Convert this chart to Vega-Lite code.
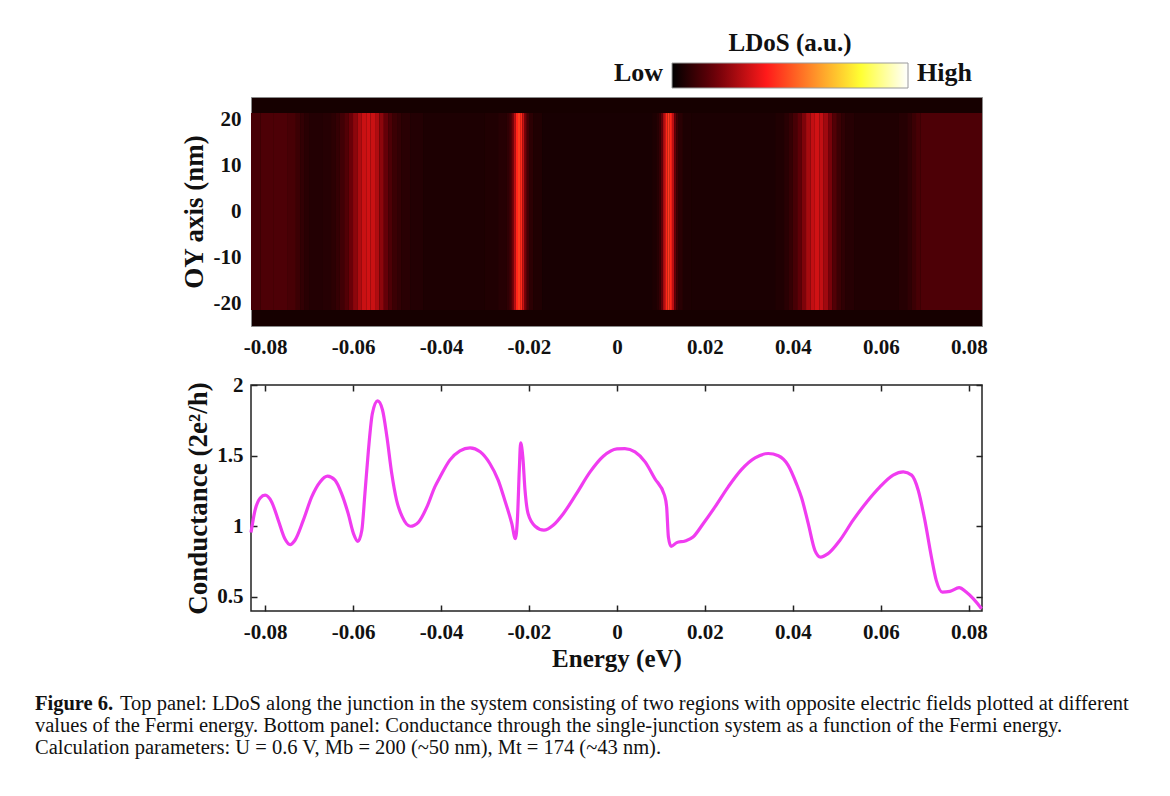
{
  "$schema": "https://vega.github.io/schema/vega-lite/v6.json",
  "background": "white",
  "padding": {"left": 35, "top": 31, "right": 5, "bottom": 5},
  "spacing": 15,
  "config": {
    "font": "Liberation Serif",
    "view": {"stroke": null},
    "axis": {
      "grid": false,
      "labelFont": "Liberation Serif",
      "labelFontWeight": "bold",
      "labelFontSize": 21,
      "labelColor": "#111111",
      "titleFont": "Liberation Serif",
      "titleFontWeight": "bold",
      "titleFontSize": 27,
      "titleColor": "#111111",
      "labelFlush": false
    }
  },
  "datasets": {
    "ldos": [
      {"e0": -0.0832, "e1": -0.081, "v": 0.12},
      {"e0": -0.081, "e1": -0.078, "v": 0.13},
      {"e0": -0.078, "e1": -0.075, "v": 0.13},
      {"e0": -0.075, "e1": -0.073, "v": 0.12},
      {"e0": -0.073, "e1": -0.072, "v": 0.10},
      {"e0": -0.072, "e1": -0.071, "v": 0.085},
      {"e0": -0.071, "e1": -0.070, "v": 0.07},
      {"e0": -0.070, "e1": -0.067, "v": 0.06},
      {"e0": -0.067, "e1": -0.065, "v": 0.065},
      {"e0": -0.065, "e1": -0.064, "v": 0.075},
      {"e0": -0.064, "e1": -0.063, "v": 0.09},
      {"e0": -0.063, "e1": -0.062, "v": 0.11},
      {"e0": -0.062, "e1": -0.061, "v": 0.14},
      {"e0": -0.061, "e1": -0.060, "v": 0.18},
      {"e0": -0.060, "e1": -0.059, "v": 0.23},
      {"e0": -0.059, "e1": -0.058, "v": 0.28},
      {"e0": -0.058, "e1": -0.057, "v": 0.32},
      {"e0": -0.057, "e1": -0.056, "v": 0.33},
      {"e0": -0.056, "e1": -0.055, "v": 0.32},
      {"e0": -0.055, "e1": -0.054, "v": 0.28},
      {"e0": -0.054, "e1": -0.053, "v": 0.23},
      {"e0": -0.053, "e1": -0.052, "v": 0.17},
      {"e0": -0.052, "e1": -0.051, "v": 0.13},
      {"e0": -0.051, "e1": -0.050, "v": 0.10},
      {"e0": -0.050, "e1": -0.049, "v": 0.085},
      {"e0": -0.049, "e1": -0.047, "v": 0.07},
      {"e0": -0.047, "e1": -0.044, "v": 0.06},
      {"e0": -0.044, "e1": -0.030, "v": 0.05},
      {"e0": -0.030, "e1": -0.027, "v": 0.055},
      {"e0": -0.027, "e1": -0.025, "v": 0.065},
      {"e0": -0.025, "e1": -0.0245, "v": 0.08},
      {"e0": -0.0245, "e1": -0.024, "v": 0.11},
      {"e0": -0.024, "e1": -0.0235, "v": 0.18},
      {"e0": -0.0235, "e1": -0.023, "v": 0.30},
      {"e0": -0.023, "e1": -0.0225, "v": 0.42},
      {"e0": -0.0225, "e1": -0.022, "v": 0.46},
      {"e0": -0.022, "e1": -0.0215, "v": 0.43},
      {"e0": -0.0215, "e1": -0.021, "v": 0.32},
      {"e0": -0.021, "e1": -0.0205, "v": 0.19},
      {"e0": -0.0205, "e1": -0.020, "v": 0.11},
      {"e0": -0.020, "e1": -0.019, "v": 0.075},
      {"e0": -0.019, "e1": -0.017, "v": 0.055},
      {"e0": -0.017, "e1": 0.008, "v": 0.04},
      {"e0": 0.008, "e1": 0.009, "v": 0.05},
      {"e0": 0.009, "e1": 0.0095, "v": 0.065},
      {"e0": 0.0095, "e1": 0.010, "v": 0.09},
      {"e0": 0.010, "e1": 0.0105, "v": 0.16},
      {"e0": 0.0105, "e1": 0.011, "v": 0.29},
      {"e0": 0.011, "e1": 0.0115, "v": 0.42},
      {"e0": 0.0115, "e1": 0.012, "v": 0.46},
      {"e0": 0.012, "e1": 0.0125, "v": 0.42},
      {"e0": 0.0125, "e1": 0.013, "v": 0.30},
      {"e0": 0.013, "e1": 0.0135, "v": 0.17},
      {"e0": 0.0135, "e1": 0.014, "v": 0.10},
      {"e0": 0.014, "e1": 0.015, "v": 0.07},
      {"e0": 0.015, "e1": 0.017, "v": 0.05},
      {"e0": 0.017, "e1": 0.036, "v": 0.045},
      {"e0": 0.036, "e1": 0.038, "v": 0.055},
      {"e0": 0.038, "e1": 0.039, "v": 0.07},
      {"e0": 0.039, "e1": 0.040, "v": 0.09},
      {"e0": 0.040, "e1": 0.041, "v": 0.12},
      {"e0": 0.041, "e1": 0.042, "v": 0.16},
      {"e0": 0.042, "e1": 0.043, "v": 0.21},
      {"e0": 0.043, "e1": 0.044, "v": 0.27},
      {"e0": 0.044, "e1": 0.045, "v": 0.31},
      {"e0": 0.045, "e1": 0.046, "v": 0.33},
      {"e0": 0.046, "e1": 0.047, "v": 0.31},
      {"e0": 0.047, "e1": 0.048, "v": 0.26},
      {"e0": 0.048, "e1": 0.049, "v": 0.20},
      {"e0": 0.049, "e1": 0.050, "v": 0.14},
      {"e0": 0.050, "e1": 0.051, "v": 0.10},
      {"e0": 0.051, "e1": 0.052, "v": 0.08},
      {"e0": 0.052, "e1": 0.054, "v": 0.065},
      {"e0": 0.054, "e1": 0.064, "v": 0.055},
      {"e0": 0.064, "e1": 0.066, "v": 0.065},
      {"e0": 0.066, "e1": 0.067, "v": 0.08},
      {"e0": 0.067, "e1": 0.068, "v": 0.10},
      {"e0": 0.068, "e1": 0.069, "v": 0.12},
      {"e0": 0.069, "e1": 0.083, "v": 0.13}
    ],
    "cond": [
      {"E": -0.0832, "G": 0.955},
      {"E": -0.0823, "G": 1.11},
      {"E": -0.0811, "G": 1.20},
      {"E": -0.0800, "G": 1.22},
      {"E": -0.0785, "G": 1.172},
      {"E": -0.0770, "G": 1.043},
      {"E": -0.0755, "G": 0.912},
      {"E": -0.0743, "G": 0.870},
      {"E": -0.0732, "G": 0.901},
      {"E": -0.0713, "G": 1.043},
      {"E": -0.0694, "G": 1.208},
      {"E": -0.0675, "G": 1.314},
      {"E": -0.0658, "G": 1.355},
      {"E": -0.0641, "G": 1.326},
      {"E": -0.0626, "G": 1.231},
      {"E": -0.0611, "G": 1.089},
      {"E": -0.0599, "G": 0.948},
      {"E": -0.0589, "G": 0.893},
      {"E": -0.0580, "G": 0.972},
      {"E": -0.0573, "G": 1.231},
      {"E": -0.0565, "G": 1.539},
      {"E": -0.0556, "G": 1.799},
      {"E": -0.0544, "G": 1.887},
      {"E": -0.0533, "G": 1.823},
      {"E": -0.0523, "G": 1.633},
      {"E": -0.0512, "G": 1.373},
      {"E": -0.0501, "G": 1.184},
      {"E": -0.0488, "G": 1.066},
      {"E": -0.0470, "G": 1.000},
      {"E": -0.0451, "G": 1.030},
      {"E": -0.0432, "G": 1.137},
      {"E": -0.0414, "G": 1.279},
      {"E": -0.0402, "G": 1.350},
      {"E": -0.0380, "G": 1.468},
      {"E": -0.0357, "G": 1.534},
      {"E": -0.0334, "G": 1.555},
      {"E": -0.0311, "G": 1.527},
      {"E": -0.0289, "G": 1.444},
      {"E": -0.0270, "G": 1.326},
      {"E": -0.0255, "G": 1.184},
      {"E": -0.0239, "G": 1.018},
      {"E": -0.0231, "G": 0.912},
      {"E": -0.0226, "G": 1.066},
      {"E": -0.0222, "G": 1.397},
      {"E": -0.0219, "G": 1.591},
      {"E": -0.0214, "G": 1.491},
      {"E": -0.0209, "G": 1.255},
      {"E": -0.0202, "G": 1.089},
      {"E": -0.0186, "G": 1.000},
      {"E": -0.0166, "G": 0.972},
      {"E": -0.0145, "G": 1.007},
      {"E": -0.0122, "G": 1.089},
      {"E": -0.0092, "G": 1.231},
      {"E": -0.0061, "G": 1.385},
      {"E": -0.0031, "G": 1.496},
      {"E": 0.0000, "G": 1.548},
      {"E": 0.0018, "G": 1.550},
      {"E": 0.0041, "G": 1.527},
      {"E": 0.0064, "G": 1.456},
      {"E": 0.0086, "G": 1.338},
      {"E": 0.0108, "G": 1.220},
      {"E": 0.0113, "G": 1.137},
      {"E": 0.0117, "G": 0.924},
      {"E": 0.0123, "G": 0.858},
      {"E": 0.0136, "G": 0.884},
      {"E": 0.0155, "G": 0.896},
      {"E": 0.0173, "G": 0.924},
      {"E": 0.0196, "G": 1.018},
      {"E": 0.0223, "G": 1.137},
      {"E": 0.0253, "G": 1.279},
      {"E": 0.0283, "G": 1.401},
      {"E": 0.0314, "G": 1.484},
      {"E": 0.0344, "G": 1.515},
      {"E": 0.0367, "G": 1.499},
      {"E": 0.0389, "G": 1.433},
      {"E": 0.0408, "G": 1.302},
      {"E": 0.0420, "G": 1.200},
      {"E": 0.0435, "G": 1.018},
      {"E": 0.0450, "G": 0.830},
      {"E": 0.0463, "G": 0.782},
      {"E": 0.0480, "G": 0.806},
      {"E": 0.0507, "G": 0.901},
      {"E": 0.0537, "G": 1.043},
      {"E": 0.0568, "G": 1.172},
      {"E": 0.0598, "G": 1.279},
      {"E": 0.0628, "G": 1.362},
      {"E": 0.0651, "G": 1.385},
      {"E": 0.0670, "G": 1.362},
      {"E": 0.0685, "G": 1.255},
      {"E": 0.0700, "G": 1.043},
      {"E": 0.0715, "G": 0.782},
      {"E": 0.0726, "G": 0.617},
      {"E": 0.0740, "G": 0.534},
      {"E": 0.0757, "G": 0.539},
      {"E": 0.0778, "G": 0.565},
      {"E": 0.0794, "G": 0.534},
      {"E": 0.0810, "G": 0.487},
      {"E": 0.0829, "G": 0.416}
    ],
    "caption": [
      {"line": 1, "part": "head", "text": "Figure 6."},
      {"line": 1, "part": "first", "text": "Top panel: LDoS along the junction in the system consisting of two regions with opposite electric fields plotted at different"},
      {"line": 2, "part": "rest", "text": "values of the Fermi energy. Bottom panel: Conductance through the single-junction system as a function of the Fermi energy."},
      {"line": 3, "part": "rest", "text": "Calculation parameters: U = 0.6 V, Mb = 200 (~50 nm), Mt = 174 (~43 nm)."}
    ]
  },
  "vconcat": [
    {
      "width": 731,
      "height": 229,
      "data": {"name": "ldos"},
      "view": {"stroke": "#8a8a8a", "strokeWidth": 1, "fill": "#160000"},
      "mark": {"type": "rect"},
      "encoding": {
        "x": {
          "field": "e0",
          "type": "quantitative",
          "scale": {"domain": [-0.0832, 0.083], "nice": false, "zero": false},
          "axis": {
            "values": [-0.08, -0.06, -0.04, -0.02, 0, 0.02, 0.04, 0.06, 0.08],
            "ticks": false,
            "domain": false,
            "title": null,
            "labelPadding": 10,
            "labelExpr": "datum.value == 0 ? '0' : replace(format(datum.value, '.2f'), '\u2212', '-')"
          }
        },
        "x2": {"field": "e1"},
        "y": {
          "datum": -21.5,
          "type": "quantitative",
          "scale": {"domain": [-25, 25], "nice": false, "zero": false},
          "axis": {
            "values": [-20, -10, 0, 10, 20],
            "ticks": false,
            "domain": false,
            "title": "OY axis (nm)",
            "titlePadding": 5,
            "labelPadding": 10,
            "labelExpr": "replace(format(datum.value, 'd'), '\u2212', '-')"
          }
        },
        "y2": {"datum": 21.5},
        "color": {
          "field": "v",
          "type": "quantitative",
          "scale": {
            "domain": [0, 0.18, 0.4, 0.62, 0.8, 1],
            "range": ["#000000", "#6a0008", "#ff1a1a", "#ff9a2a", "#ffff33", "#ffffff"],
            "interpolate": "rgb"
          },
          "legend": {
            "orient": "none",
            "legendX": 421,
            "legendY": -66,
            "direction": "horizontal",
            "gradientLength": 236,
            "gradientThickness": 25,
            "gradientStrokeColor": "#9a9a9a",
            "gradientStrokeWidth": 1,
            "title": "LDoS (a.u.)",
            "titleFont": "Liberation Serif",
            "titleFontSize": 25,
            "titleFontWeight": "bold",
            "titleColor": "#111111",
            "titleAnchor": "middle",
            "titlePadding": 7,
            "values": [0, 1],
            "labelExpr": "datum.value < 0.5 ? 'Low' : 'High'",
            "labelFont": "Liberation Serif",
            "labelFontSize": 26,
            "labelFontWeight": "bold",
            "labelColor": "#111111",
            "encode": {
              "labels": {
                "update": {
                  "align": {"signal": "datum.value < 0.5 ? 'right' : 'left'"},
                  "baseline": {"value": "middle"},
                  "dx": {"signal": "datum.value < 0.5 ? -9 : 9"},
                  "dy": {"value": -17}
                }
              }
            }
          }
        }
      }
    },
    {
      "width": 731,
      "height": 226,
      "data": {"name": "cond"},
      "view": {"stroke": "#222222", "strokeWidth": 1.5},
      "layer": [
        {
          "mark": {"type": "line", "color": "#f03cf0", "strokeWidth": 3.2, "interpolate": "monotone"},
          "encoding": {
            "x": {
              "field": "E",
              "type": "quantitative",
              "scale": {"domain": [-0.0832, 0.083], "nice": false, "zero": false},
              "axis": {
                "orient": "bottom",
                "values": [-0.08, -0.06, -0.04, -0.02, 0, 0.02, 0.04, 0.06, 0.08],
                "domain": false,
                "tickSize": -6,
                "tickColor": "#222222",
                "tickWidth": 1.5,
                "labelPadding": 16,
                "title": "Energy (eV)",
                "titleFontSize": 25,
                "titlePadding": 4,
                "labelExpr": "datum.value == 0 ? '0' : replace(format(datum.value, '.2f'), '\u2212', '-')"
              }
            },
            "y": {
              "field": "G",
              "type": "quantitative",
              "scale": {"domain": [0.4, 2], "nice": false, "zero": false},
              "axis": {
                "orient": "left",
                "values": [0.5, 1, 1.5, 2],
                "domain": false,
                "tickSize": -6,
                "tickColor": "#222222",
                "tickWidth": 1.5,
                "labelPadding": 14,
                "format": "~g",
                "title": "Conductance (2e²/h)",
                "titlePadding": 4
              }
            }
          }
        },
        {
          "mark": {"type": "point", "opacity": 0},
          "encoding": {
            "x": {
              "field": "E",
              "type": "quantitative",
              "axis": {
                "orient": "top",
                "values": [-0.08, -0.06, -0.04, -0.02, 0, 0.02, 0.04, 0.06, 0.08],
                "domain": false,
                "labels": false,
                "title": null,
                "tickSize": -6,
                "tickColor": "#222222",
                "tickWidth": 1.5
              }
            },
            "y": {
              "field": "G",
              "type": "quantitative",
              "axis": {
                "orient": "right",
                "values": [0.5, 1, 1.5, 2],
                "domain": false,
                "labels": false,
                "title": null,
                "tickSize": -6,
                "tickColor": "#222222",
                "tickWidth": 1.5
              }
            }
          }
        }
      ],
      "resolve": {"axis": {"x": "independent", "y": "independent"}}
    },
    {
      "width": 731,
      "height": 74,
      "data": {"name": "caption"},
      "encoding": {
        "y": {"field": "line", "type": "quantitative", "axis": null, "scale": {"domain": [0.25, 3.6], "reverse": true, "nice": false, "zero": false}},
        "text": {"field": "text"}
      },
      "layer": [
        {
          "transform": [{"filter": "datum.part == 'head'"}],
          "mark": {"type": "text", "align": "left", "baseline": "middle", "font": "Liberation Serif", "fontSize": 20.5, "fontWeight": "bold", "color": "#111111", "dx": -216},
          "encoding": {"x": {"value": 0}}
        },
        {
          "transform": [{"filter": "datum.part == 'first'"}],
          "mark": {"type": "text", "align": "left", "baseline": "middle", "font": "Liberation Serif", "fontSize": 20.5, "color": "#111111", "dx": -131},
          "encoding": {"x": {"value": 0}}
        },
        {
          "transform": [{"filter": "datum.part == 'rest'"}],
          "mark": {"type": "text", "align": "left", "baseline": "middle", "font": "Liberation Serif", "fontSize": 20.5, "color": "#111111", "dx": -216},
          "encoding": {"x": {"value": 0}}
        }
      ]
    }
  ]
}
